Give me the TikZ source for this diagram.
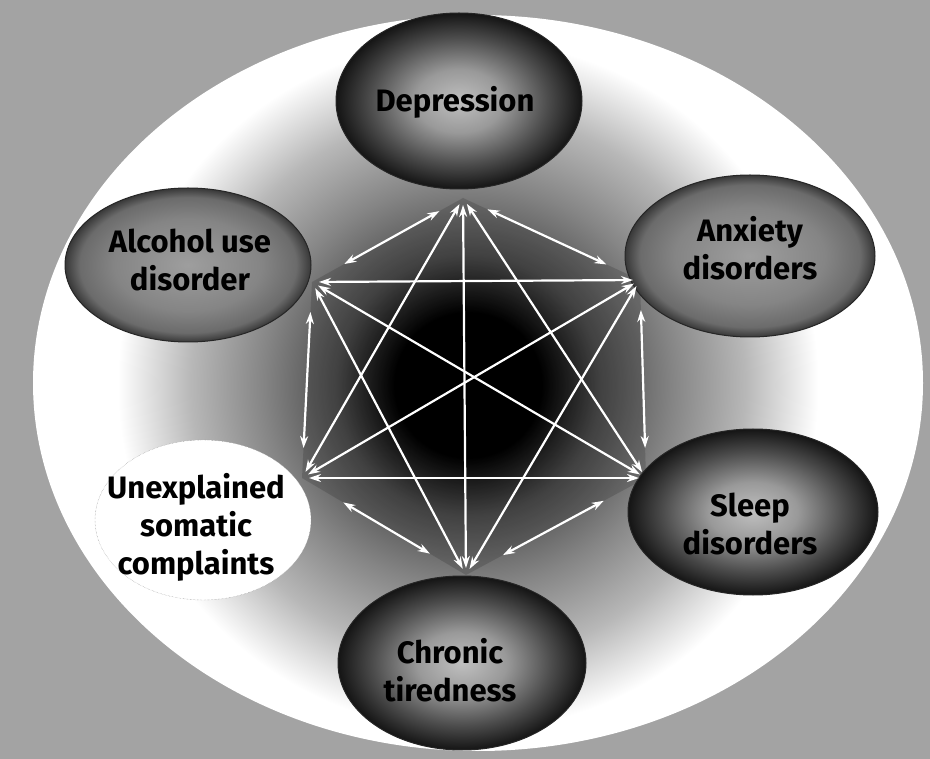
\documentclass[tikz,border=0pt]{standalone}
\usepackage{fontspec}
\setmainfont{Fira Sans}
\usetikzlibrary{shapes.geometric,arrows.meta,calc}
\pgfdeclareradialshading{hub}{\pgfpoint{0bp}{0bp}}{color(0bp)=(black); color(5bp)=(black); color(9bp)=(black!70); color(14bp)=(black!48); color(19bp)=(black!28); color(24bp)=(white); color(50bp)=(white)}
\pgfdeclareradialshading{balldark}{\pgfpoint{0bp}{0bp}}{color(0bp)=(black!25); color(9bp)=(black!40); color(18bp)=(black!70); color(25bp)=(black!92); color(50bp)=(black!92)}
\pgfdeclareradialshading{ballmid}{\pgfpoint{0bp}{0bp}}{color(0bp)=(black!38); color(15bp)=(black!48); color(22bp)=(black!58); color(25bp)=(black!78); color(50bp)=(black!78)}
\tikzset{
  ball/.style={ellipse, inner sep=0pt, draw=black!85, line width=1pt, shade},
  lbl/.style={align=center, font=\fontsize{31}{38}\selectfont\bfseries, text=black},
  link/.style={draw=white, line width=2.2pt, {Stealth[length=12pt,width=8pt]}-{Stealth[length=12pt,width=8pt]}, shorten <=7pt, shorten >=7pt}
}
\begin{document}
\begin{tikzpicture}[x=1pt,y=-1pt]
\useasboundingbox (0,0) rectangle (930,759);
% background
\fill[black!36] (0,0) rectangle (930,759);
\fill[white] (478,383) ellipse [x radius=445pt, y radius=368pt];
\begin{scope}
  \clip (478,383) ellipse [x radius=445pt, y radius=368pt];
  \shade[shading=hub] (468,385) ellipse [x radius=365pt, y radius=360pt];
\end{scope}
% meeting points
\coordinate (pD) at (463,198);
\coordinate (pA) at (312,282);
\coordinate (pX) at (640,280);
\coordinate (pU) at (302,478);
\coordinate (pS) at (646,478);
\coordinate (pC) at (466,575);
\fill[black,opacity=0.15] (pD) -- (pX) -- (pS) -- (pC) -- (pU) -- (pA) -- cycle;
% nodes
\node[ball, shading=balldark, minimum width=246pt, minimum height=176pt] (D) at (459,101) {};
\node[ball, shading=ballmid, minimum width=246pt, minimum height=154pt] (A) at (188,265) {};
\node[ball, shading=ballmid, minimum width=250pt, minimum height=162pt] (X) at (750,256) {};
\node[ellipse, inner sep=0pt, fill=white, draw=black!45, densely dotted, minimum width=216pt, minimum height=160pt] (U) at (203,520) {};
\node[ball, shading=balldark, minimum width=250pt, minimum height=166pt] (S) at (753,512) {};
\node[ball, shading=balldark, minimum width=248pt, minimum height=174pt] (C) at (462,663) {};
% connectors
\draw[link, shorten <=27pt, shorten >=37pt] (pD) -- (pA);
\draw[link, shorten <=27pt, shorten >=37pt] (pD) -- (pX);
\draw[link] (pD) -- (pU);
\draw[link] (pD) -- (pS);
\draw[link] (pD) -- (pC);
\draw[link] (pA) -- (pX);
\draw[link, shorten <=30pt, shorten >=30pt] (pA) -- (pU);
\draw[link] (pA) -- (pS);
\draw[link] (pA) -- (pC);
\draw[link] (pX) -- (pU);
\draw[link, shorten <=30pt, shorten >=30pt] (pX) -- (pS);
\draw[link] (pX) -- (pC);
\draw[link] (pU) -- (pS);
\draw[link, shorten <=48pt, shorten >=42pt] (pU) -- (pC);
\draw[link, shorten <=48pt, shorten >=42pt] (pS) -- (pC);
% labels
\node[lbl] (Dt) at (455,102) {Depression};
\node[lbl] (At) at (190,260) {Alcohol use\\disorder};
\node[lbl] (Xt) at (750,248) {Anxiety\\disorders};
\node[lbl] (Ut) at (196,527) {Unexplained\\somatic\\complaints};
\node[lbl] (St) at (750,524) {Sleep\\disorders};
\node[lbl] (Ct) at (450,670) {Chronic\\tiredness};
\end{tikzpicture}
\end{document}
